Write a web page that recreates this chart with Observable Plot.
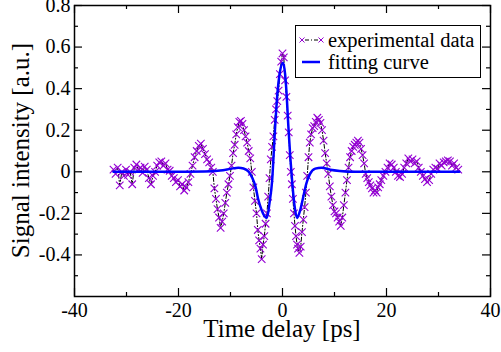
<!DOCTYPE html>
<html>
<head>
<meta charset="utf-8">
<script src="https://cdn.jsdelivr.net/npm/d3@7"></script>
<script src="https://cdn.jsdelivr.net/npm/@observablehq/plot@0.6"></script>
<style>
  html, body { margin: 0; padding: 0; background: white; }
</style>
</head>
<body>
<div id="chart"></div>
<script>
// ---- data ----
const expDelay = [
  -32.5,-32.1,-31.7,-31.3,-30.9,-30.5,-30.1,-29.7,-29.3,-28.9,-28.5,-28.1,-27.7,-27.3,-26.9,-26.5,-26.1,-25.7,-25.3,-24.9,
  -24.5,-24.1,-23.7,-23.3,-22.9,-22.5,-22.1,-21.7,-21.3,-20.9,-20.5,-20.1,-19.7,-19.3,-18.9,-18.5,-18.1,-17.7,-17.3,-16.9,
  -16.5,-16.1,-15.7,-15.3,-14.9,-14.5,-14.1,-13.7,-13.4,-13.1,-12.8,-12.5,-12.2,-11.9,-11.6,-11.3,-11.0,-10.7,-10.4,-10.1,
  -9.8,-9.5,-9.2,-8.9,-8.6,-8.3,-8.0,-7.7,-7.4,-7.1,-6.8,-6.5,-6.2,-5.9,-5.6,-5.3,-5.0,-4.75,-4.5,-4.25,
  -4.0,-3.75,-3.5,-3.25,-3.0,-2.75,-2.5,-2.25,-2.0,-1.75,-1.5,-1.25,-1.0,-0.75,-0.5,-0.25,0.0,0.25,0.5,0.75,
  1.0,1.2,1.4,1.6,1.8,2.0,2.2,2.4,2.6,2.8,3.0,3.25,3.5,3.75,4.0,4.25,4.5,4.75,5.0,5.25,
  5.5,5.8,6.1,6.4,6.7,7.0,7.3,7.6,7.9,8.2,8.5,8.8,9.1,9.4,9.7,10.0,10.3,10.6,10.9,11.2,
  11.5,11.8,12.1,12.4,12.7,13.0,13.3,13.6,13.9,14.2,14.5,14.8,15.1,15.4,15.7,16.0,16.3,16.6,16.9,17.2,
  17.5,17.8,18.1,18.4,18.7,19.0,19.4,19.8,20.2,20.6,21.0,21.4,21.8,22.2,22.6,23.0,23.4,23.8,24.2,24.6,
  25.0,25.4,25.8,26.2,26.6,27.0,27.4,27.8,28.2,28.6,29.0,29.4,29.8,30.2,30.6,31.0,31.4,31.8,32.2,32.6,
  33.0,33.4,33.8
];
const expSignal = [
  0.01,-0.01,0.02,-0.065,0.0,-0.02,0.01,-0.015,0.0,-0.06,0.02,0.035,0.01,0.02,-0.005,0.025,0.01,-0.03,-0.06,-0.02,
  0.0,0.03,0.045,0.05,0.03,0.04,0.01,0.005,-0.02,-0.03,-0.05,-0.04,-0.07,-0.06,-0.09,-0.075,-0.05,-0.01,0.03,0.07,
  0.1,0.125,0.135,0.11,0.085,0.06,0.045,0.02,0.0,-0.08,-0.13,-0.18,-0.22,-0.27,-0.24,-0.2,-0.15,-0.1,-0.06,-0.02,
  0.03,0.09,0.13,0.18,0.215,0.24,0.245,0.23,0.2,0.17,0.14,0.1,0.065,0.0,-0.075,-0.14,-0.2,-0.28,-0.33,-0.37,
  -0.42,-0.35,-0.31,-0.25,-0.2,-0.12,-0.03,0.06,0.12,0.17,0.25,0.3,0.34,0.39,0.47,0.53,0.57,0.55,0.44,0.36,
  0.27,0.19,0.08,0.0,-0.06,-0.13,-0.2,-0.26,-0.31,-0.35,-0.37,-0.39,-0.36,-0.29,-0.23,-0.17,-0.1,-0.02,0.07,0.14,
  0.18,0.21,0.22,0.24,0.26,0.25,0.235,0.2,0.15,0.09,0.04,-0.01,-0.07,-0.12,-0.16,-0.19,-0.2,-0.22,-0.24,-0.26,
  -0.22,-0.16,-0.1,-0.04,0.02,0.07,0.1,0.12,0.13,0.14,0.15,0.14,0.11,0.08,0.04,-0.01,-0.03,-0.05,-0.065,-0.08,
  -0.1,-0.09,-0.1,-0.075,-0.06,-0.04,-0.02,0.0,0.02,0.04,0.035,0.02,0.0,-0.02,-0.025,-0.01,0.02,0.04,0.065,0.05,
  0.06,0.04,0.05,0.02,0.0,-0.02,-0.035,-0.05,-0.04,-0.01,0.01,0.02,0.015,0.04,0.03,0.045,0.05,0.055,0.05,0.03,
  0.04,0.02,0.01
];
const fitDelay = [-32.5,-20,-15,-12,-10,-8.5,-7.5,-6.5,-5.8,-5.2,-4.7,-4,-3.5,-3,-2.5,-2,-1.5,-1,-0.5,0.1,
  0.5,0.8,1.1,1.5,1.9,2.3,2.8,3.4,4,4.6,5.3,6.3,7.5,9.2,11,14,34];
const fitSignal = [0,0,0.001,0.006,0.014,0.02,0.016,0,-0.03,-0.07,-0.13,-0.185,-0.212,-0.222,-0.15,-0.045,0.18,0.37,0.48,0.525,
  0.47,0.37,0.23,0.07,-0.06,-0.16,-0.222,-0.185,-0.12,-0.055,-0.01,0.015,0.02,0.01,0.004,0,0];

const xMajor = [-40, -20, 0, 20, 40];
const xMinor = [-30, -10, 10, 30];
const yMajor = [-0.4, -0.2, 0, 0.2, 0.4, 0.6, 0.8];
const yMinor = [-0.5, -0.3, -0.1, 0.1, 0.3, 0.5, 0.7];
const seriesNames = ["experimental data", "fitting curve"];
const xTitle = "Time delay [ps]";
const yTitle = "Signal intensity [a.u.]";

const expData = expDelay.map((t, i) => ({t, v: expSignal[i]}));
const fitData = fitDelay.map((t, i) => ({t, v: fitSignal[i]}));

// ---- layout ----
const W = 501, H = 352;
const mL = 74, mR = 11, mT = 5, mB = 56;
const pw = W - mL - mR, ph = H - mT - mB;
const font = "'Liberation Serif', 'Times New Roman', serif";
const violet = "#9400d3";
const blue = "#0000ff";

const plot = Plot.plot({
  width: W, height: H,
  marginLeft: mL, marginRight: mR, marginTop: mT, marginBottom: mB,
  style: {fontFamily: font, fontSize: "20px", color: "black", background: "white"},
  x: {domain: [-40, 40], axis: null},
  y: {domain: [-0.6, 0.8], axis: null},
  marks: [
    // data
    Plot.line(expData, {x: "t", y: "v", stroke: "black", strokeWidth: 1, strokeDasharray: "4,2,1,2"}),
    Plot.dot(expData, {x: "t", y: "v", symbol: "times", r: 3.5, stroke: violet, strokeWidth: 1.1}),
    Plot.line(fitData, {x: "t", y: "v", stroke: blue, strokeWidth: 2.5, curve: "monotone-x"}),
    // ticks, inward on all four sides
    Plot.tickX(xMajor, {x: d => d, insetTop: ph - 8, stroke: "black", strokeWidth: 1.2}),
    Plot.tickX(xMajor, {x: d => d, insetBottom: ph - 8, stroke: "black", strokeWidth: 1.2}),
    Plot.tickX(xMinor, {x: d => d, insetTop: ph - 4, stroke: "black", strokeWidth: 1.2}),
    Plot.tickX(xMinor, {x: d => d, insetBottom: ph - 4, stroke: "black", strokeWidth: 1.2}),
    Plot.tickY(yMajor, {y: d => d, insetRight: pw - 8, stroke: "black", strokeWidth: 1.2}),
    Plot.tickY(yMajor, {y: d => d, insetLeft: pw - 8, stroke: "black", strokeWidth: 1.2}),
    Plot.tickY(yMinor, {y: d => d, insetRight: pw - 4, stroke: "black", strokeWidth: 1.2}),
    Plot.tickY(yMinor, {y: d => d, insetLeft: pw - 4, stroke: "black", strokeWidth: 1.2}),
    Plot.frame({stroke: "black", strokeWidth: 1.5}),
    // tick labels
    Plot.axisX(xMajor, {anchor: "bottom", tickSize: 0, tickPadding: 6, tickFormat: d => String(d), label: null, fontSize: 20, fontFamily: font}),
    Plot.axisY(yMajor, {anchor: "left", tickSize: 0, tickPadding: 4, tickFormat: d => d === 0 ? "0" : d.toFixed(1), label: null, fontSize: 20, fontFamily: font})
  ]
});

document.getElementById("chart").appendChild(plot);
const svg = d3.select(plot);

// ---- axis titles ----
svg.append("text").attr("x", mL + pw / 2).attr("y", 337)
  .attr("text-anchor", "middle").attr("font-family", font).attr("font-size", 25)
  .attr("fill", "black").text(xTitle);
svg.append("text").attr("transform", `translate(29,${mT + ph / 2}) rotate(-90)`)
  .attr("text-anchor", "middle").attr("font-family", font).attr("font-size", 25)
  .attr("fill", "black").text(yTitle);

// ---- legend (inside the plot, top right) ----
const lg = svg.append("g").attr("font-family", font).attr("font-size", 20.5).attr("text-anchor", "start");
lg.append("rect").attr("x", 295.5).attr("y", 25.5).attr("width", 185).attr("height", 52)
  .attr("fill", "white").attr("stroke", "black").attr("stroke-width", 1);
// row 1: experimental data
const r1 = 40;
lg.append("line").attr("x1", 305).attr("x2", 318).attr("y1", r1).attr("y2", r1)
  .attr("stroke", "black").attr("stroke-dasharray", "4,2,1,2");
const sym = d3.symbol(d3.symbolTimes, Math.PI * 2.4 * 2.4)();
[302, 321].forEach(x => lg.append("path").attr("d", sym).attr("transform", `translate(${x},${r1})`)
  .attr("fill", "none").attr("stroke", violet).attr("stroke-width", 1));
lg.append("text").attr("x", 328).attr("y", r1).attr("dy", "0.32em").attr("fill", "black").text(seriesNames[0]);
// row 2: fitting curve
const r2 = 62;
lg.append("line").attr("x1", 302).attr("x2", 320).attr("y1", r2).attr("y2", r2)
  .attr("stroke", blue).attr("stroke-width", 2.5);
lg.append("text").attr("x", 328).attr("y", r2).attr("dy", "0.32em").attr("fill", "black").text(seriesNames[1]);
</script>
</body>
</html>
